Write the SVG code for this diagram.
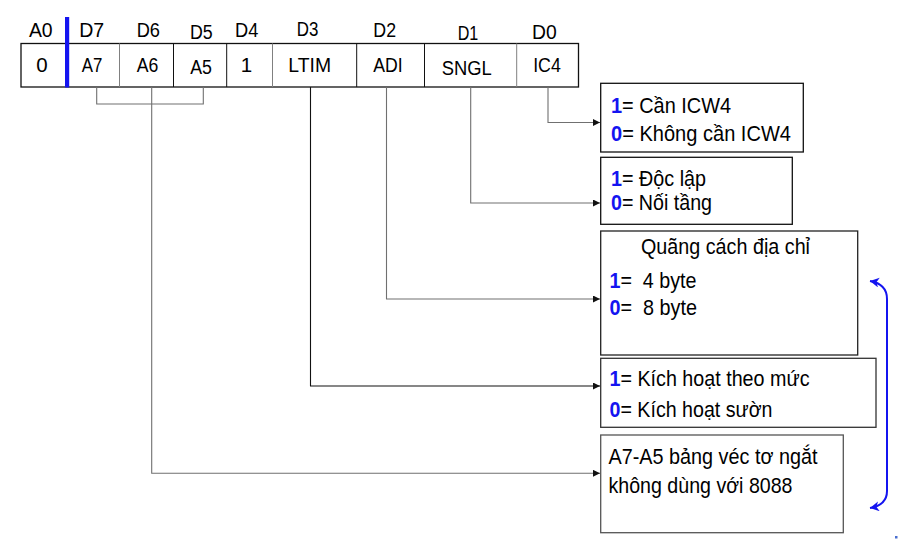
<svg xmlns="http://www.w3.org/2000/svg" width="901" height="546" viewBox="0 0 901 546">
<style>
text{font-family:"Liberation Sans",Arial,sans-serif;fill:#000}
.h{font-size:20.5px;text-anchor:middle}
.c{font-size:20.5px;text-anchor:middle}
.t{font-size:22.5px}
.b{fill:#1414f0;font-weight:bold}
.conn{fill:none;stroke-width:1.1}
.g{stroke:#707070}
.k{stroke:#111}
.box{fill:#fff;stroke-width:1.3}
</style>
<defs>
<marker id="arr" markerUnits="userSpaceOnUse" markerWidth="8" markerHeight="8" refX="7" refY="3.5" orient="auto">
<path d="M0,0 L7,3.5 L0,7 Z" fill="#111"/>
</marker>
<marker id="barr" markerUnits="userSpaceOnUse" markerWidth="12" markerHeight="12" refX="9" refY="5" orient="auto-start-reverse">
<path d="M0,0 L9,5 L0,10 L2.5,5 Z" fill="#1414f0"/>
</marker>
</defs>

<g id="register">
<rect x="21" y="43.5" width="557.5" height="43.5" fill="#fff" stroke="#111" stroke-width="1.3"/>
<line x1="119.5" y1="43.5" x2="119.5" y2="87" stroke="#808080"/>
<line x1="173.5" y1="43.5" x2="173.5" y2="87" stroke="#111"/>
<line x1="226.7" y1="43.5" x2="226.7" y2="87" stroke="#111"/>
<line x1="272.5" y1="43.5" x2="272.5" y2="87" stroke="#808080"/>
<line x1="356.7" y1="43.5" x2="356.7" y2="87" stroke="#111"/>
<line x1="424.5" y1="43.5" x2="424.5" y2="87" stroke="#111"/>
<line x1="516.7" y1="43.5" x2="516.7" y2="87" stroke="#808080"/>
<rect x="65" y="17" width="4.2" height="70.5" fill="#1414f0"/>
<text class="h" x="40.8" y="36.7" textLength="23.7" lengthAdjust="spacingAndGlyphs">A0</text>
<text class="h" x="91.7" y="36.7" textLength="25" lengthAdjust="spacingAndGlyphs">D7</text>
<text class="h" x="148.3" y="36.7" textLength="23.3" lengthAdjust="spacingAndGlyphs">D6</text>
<text class="h" x="201.3" y="38.7" textLength="22.7" lengthAdjust="spacingAndGlyphs">D5</text>
<text class="h" x="246.7" y="36.7" textLength="23.3" lengthAdjust="spacingAndGlyphs">D4</text>
<text class="h" x="307.5" y="35.7" textLength="21.6" lengthAdjust="spacingAndGlyphs">D3</text>
<text class="h" x="384.7" y="37.3" textLength="22.7" lengthAdjust="spacingAndGlyphs">D2</text>
<text class="h" x="468" y="39.5" textLength="20.6" lengthAdjust="spacingAndGlyphs">D1</text>
<text class="h" x="544.3" y="39.3" textLength="24.7" lengthAdjust="spacingAndGlyphs">D0</text>
<text class="c" x="42" y="71.7">0</text>
<text class="c" x="92" y="71.7" textLength="20.6" lengthAdjust="spacingAndGlyphs">A7</text>
<text class="c" x="147.5" y="71.7" textLength="21.6" lengthAdjust="spacingAndGlyphs">A6</text>
<text class="c" x="201" y="74" textLength="21.7" lengthAdjust="spacingAndGlyphs">A5</text>
<text class="c" x="246.5" y="71.7">1</text>
<text class="c" x="309.7" y="71.5" textLength="42.7" lengthAdjust="spacingAndGlyphs">LTIM</text>
<text class="c" x="388" y="72" textLength="29.4" lengthAdjust="spacingAndGlyphs">ADI</text>
<text class="c" x="466.7" y="75" textLength="50" lengthAdjust="spacingAndGlyphs">SNGL</text>
<text class="c" x="547" y="72" textLength="27.7" lengthAdjust="spacingAndGlyphs">IC4</text>
</g>

<g id="connectors">
<path class="conn g" d="M96.7,87 V104 H203.3 V87"/>
<path class="conn g" d="M151.7,87 V473.3 H600" marker-end="url(#arr)"/>
<path class="conn k" d="M310.5,87 V386 H600" marker-end="url(#arr)"/>
<path class="conn g" d="M386.5,87 V299 H600" marker-end="url(#arr)"/>
<path class="conn g" d="M470.7,87 V203 H600" marker-end="url(#arr)"/>
<path class="conn g" d="M548,87 V122.5 H600" marker-end="url(#arr)"/>
<path d="M870,281 Q887,284 887,299 V491 Q887,505 870,508" fill="none" stroke="#1414f0" stroke-width="2" marker-start="url(#barr)" marker-end="url(#barr)"/>
</g>

<g id="ic4-box">
<rect class="box" x="600.7" y="83.3" width="202.6" height="68.7" stroke="#111"/>
<text class="t" x="611" y="112.5" textLength="120" lengthAdjust="spacingAndGlyphs"><tspan class="b">1</tspan>= Cần ICW4</text>
<text class="t" x="611" y="140.7" textLength="180" lengthAdjust="spacingAndGlyphs"><tspan class="b">0</tspan>= Không cần ICW4</text>
</g>

<g id="sngl-box">
<rect class="box" x="600.7" y="157.3" width="191.6" height="67" stroke="#111"/>
<text class="t" x="611" y="185.7" textLength="95" lengthAdjust="spacingAndGlyphs"><tspan class="b">1</tspan>= Độc lập</text>
<text class="t" x="611" y="210" textLength="101" lengthAdjust="spacingAndGlyphs"><tspan class="b">0</tspan>= Nối tầng</text>
</g>

<g id="adi-box">
<rect class="box" x="600.7" y="231" width="257" height="124" stroke="#222"/>
<text class="t" x="641" y="254.3" textLength="169" lengthAdjust="spacingAndGlyphs">Quãng cách địa chỉ</text>
<text class="t" x="609.5" y="288.3" textLength="87" lengthAdjust="spacingAndGlyphs" xml:space="preserve"><tspan class="b">1</tspan>=  4 byte</text>
<text class="t" x="609.5" y="315" textLength="87.5" lengthAdjust="spacingAndGlyphs" xml:space="preserve"><tspan class="b">0</tspan>=  8 byte</text>
</g>

<g id="ltim-box">
<rect class="box" x="600.7" y="358.3" width="275.3" height="69" stroke="#333"/>
<text class="t" x="609.5" y="386" textLength="200" lengthAdjust="spacingAndGlyphs"><tspan class="b">1</tspan>= Kích hoạt theo mức</text>
<text class="t" x="609.5" y="416.7" textLength="163" lengthAdjust="spacingAndGlyphs"><tspan class="b">0</tspan>= Kích hoạt sườn</text>
</g>

<g id="vector-box">
<rect class="box" x="600.7" y="435" width="242.6" height="97.7" stroke="#555"/>
<text class="t" x="608.5" y="464.3" textLength="209" lengthAdjust="spacingAndGlyphs">A7-A5 bảng véc tơ ngắt</text>
<text class="t" x="608.5" y="492.7" textLength="184" lengthAdjust="spacingAndGlyphs">không dùng với 8088</text>
</g>

<rect x="895" y="536" width="2.5" height="2.5" fill="#4a6fd0"/>
</svg>
